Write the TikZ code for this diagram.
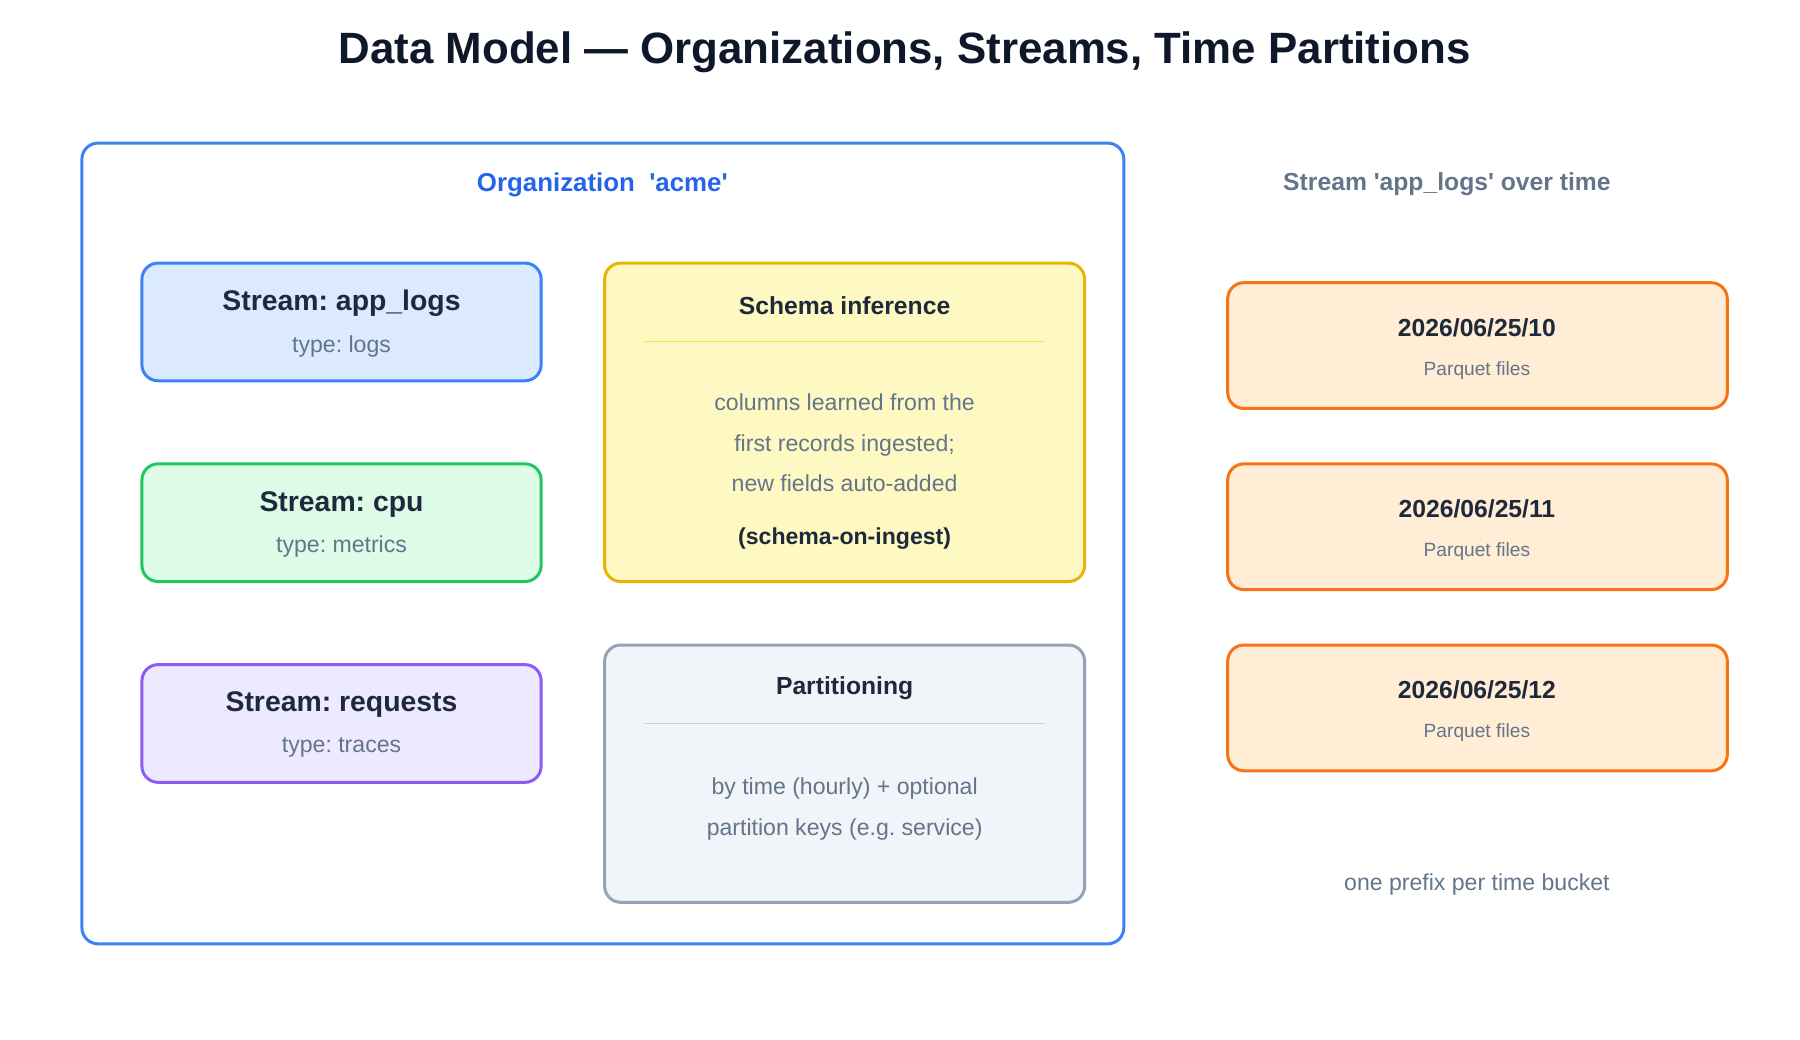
\documentclass[tikz,border=0pt]{standalone}
\usepackage{fontspec}
\setmainfont{Liberation Sans}
\frenchspacing
\newcommand{\q}{\textquotesingle}
\definecolor{ink}{HTML}{0F172A}
\definecolor{dark}{HTML}{1E293B}
\definecolor{muted}{HTML}{64748B}
\definecolor{orgblue}{HTML}{3B82F6}
\definecolor{orgtext}{HTML}{2563EB}
\definecolor{logsfill}{HTML}{DBEAFE}
\definecolor{cpuline}{HTML}{22C55E}
\definecolor{cpufill}{HTML}{DCFCE7}
\definecolor{reqline}{HTML}{8B5CF6}
\definecolor{reqfill}{HTML}{EDE9FE}
\definecolor{schline}{HTML}{EAB308}
\definecolor{schfill}{HTML}{FEF9C3}
\definecolor{schrule}{HTML}{FDE047}
\definecolor{parline}{HTML}{94A3B8}
\definecolor{parfill}{HTML}{F1F5F9}
\definecolor{parrule}{HTML}{CBD5E1}
\definecolor{timeline}{HTML}{F97316}
\definecolor{timefill}{HTML}{FFEDD5}
\tikzset{
  box/.style={draw, rounded corners=7pt, line width=1.3pt},
  head/.style={font=\bfseries\fontsize{12.3}{14}\selectfont, text=dark},
  subhead/.style={font=\bfseries\fontsize{10.7}{12}\selectfont, text=dark},
  sub/.style={font=\fontsize{10}{11}\selectfont, text=muted},
  small/.style={font=\fontsize{8.3}{10}\selectfont, text=muted},
}
\begin{document}
\begin{tikzpicture}[x=0.5pt, y=-0.5pt]
\useasboundingbox (0,0) rectangle (1560,901);

\node[font=\bfseries\fontsize{19}{22}\selectfont, text=ink] (title) at (784,45) {Data Model — Organizations, Streams, Time Partitions};

% organization
\draw[box, orgblue] (71,124) rectangle (974,818);
\node[font=\bfseries\fontsize{11.2}{13}\selectfont, text=orgtext] (org) at (522,160) {Organization\ \ \q acme\q};

% streams
\draw[box, draw=orgblue, fill=logsfill] (123,228) rectangle (469,330);
\node[head] (s1) at (296,263) {Stream: app\_logs};
\node[sub] (s1t) at (296,300) {type: logs};
\draw[box, draw=cpuline, fill=cpufill] (123,402) rectangle (469,504);
\node[head] (s2) at (296,437) {Stream: cpu};
\node[sub] (s2t) at (296,474) {type: metrics};
\draw[box, draw=reqline, fill=reqfill] (123,576) rectangle (469,678);
\node[head] (s3) at (296,611) {Stream: requests};
\node[sub] (s3t) at (296,648) {type: traces};

% schema inference
\draw[box, draw=schline, fill=schfill] (524,228) rectangle (940,504);
\node[subhead] (sch) at (732,265) {Schema inference};
\draw[schrule, line width=0.6pt] (558,296) -- (906,296);
\node[sub, align=center, font=\fontsize{10}{17.5}\selectfont] (scht) at (732,384) {columns learned from the\\first records ingested;\\new fields auto-added};
\node[subhead, font=\bfseries\fontsize{10}{11}\selectfont] (schb) at (732,467) {(schema-on-ingest)};

% partitioning
\draw[box, draw=parline, fill=parfill] (524,559) rectangle (940,782);
\node[subhead] (par) at (732,596) {Partitioning};
\draw[parrule, line width=0.6pt] (558,627) -- (906,627);
\node[sub, align=center, font=\fontsize{10}{17.5}\selectfont] (part) at (732,701) {by time (hourly) + optional\\partition keys (e.g. service)};

% time partitions
\node[font=\bfseries\fontsize{10.7}{12}\selectfont, text=muted] (over) at (1254,160) {Stream \q app\_logs\q\ over time};
\foreach \y/\h in {245/10, 402/11, 559/12} {
  \draw[box, draw=timeline, fill=timefill] (1064,\y) rectangle (1497,\y+109);
  \node[subhead] (p\h) at (1280,\y+39) {2026/06/25/\h};
  \node[small] (p\h f) at (1280,\y+76) {Parquet files};
}
\node[sub] (note) at (1280,767) {one prefix per time bucket};
\end{tikzpicture}
\end{document}
